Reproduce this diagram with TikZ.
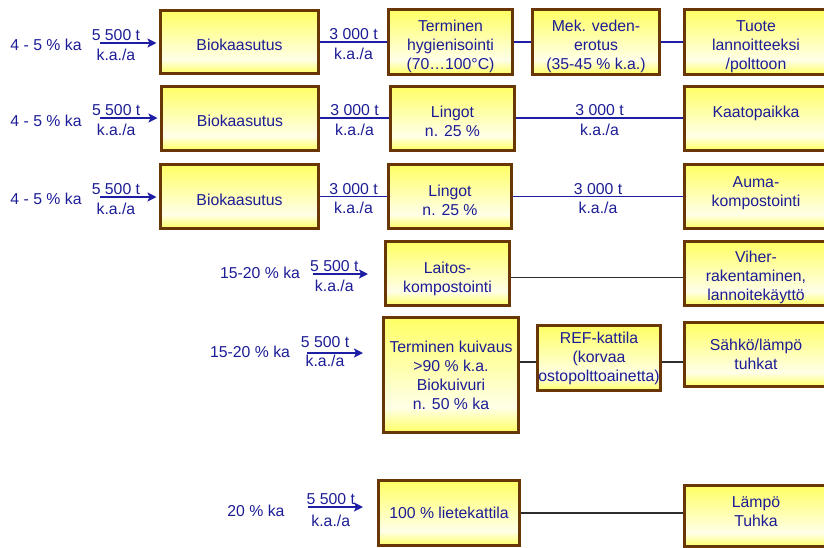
\documentclass[tikz,border=0pt]{standalone}
\usepackage{fontspec}
\setmainfont{Liberation Sans}
\usetikzlibrary{arrows.meta,positioning}

\definecolor{txtblue}{RGB}{28,28,150}
\definecolor{lineblue}{RGB}{30,30,165}
\definecolor{linegray}{RGB}{45,45,45}
\definecolor{boxbrown}{RGB}{105,55,5}
\definecolor{boxyel}{RGB}{255,255,100}
\definecolor{boxlight}{RGB}{255,255,232}
\pgfdeclareverticalshading{boxfill}{100bp}{color(0bp)=(boxyel); color(25bp)=(boxyel); color(36bp)=(boxlight); color(75bp)=(boxyel); color(100bp)=(boxyel)}
% struts to push the text of a box down (\dn) or up (\up)
\newcommand{\dn}[1]{\rule{0pt}{#1}}
\newcommand{\up}[1]{\rule[-#1]{0pt}{1pt}}

\begin{document}
\begin{tikzpicture}[x=1pt,y=-1pt,
  font=\fontsize{15.8}{19}\selectfont,
  box/.style={draw=boxbrown, line width=3pt, shade, shading=boxfill, text=txtblue, align=center, inner sep=1pt},
  boxsize/.style 2 args={minimum width=#1pt, minimum height=#2pt},
  src/.style={text=txtblue, inner sep=0pt},
  feed/.style={draw=lineblue, line width=2pt, -{Stealth[length=9pt,width=9pt,inset=2pt]}},
  link/.style={draw=lineblue, line width=1.5pt},
  plainlink/.style={draw=linegray, line width=1.5pt},
  qtop/.style={above, text=txtblue, inner sep=1.5pt},
  qbot/.style={below, text=txtblue, inner sep=5pt}]
\useasboundingbox (0,0) rectangle (824,547);

% row 1
\node[box, boxsize={158}{63}] (bio1) at (239.5,42) {\dn{18pt}Biokaasutus};
\node[box, boxsize={124}{63}] (hyg1) at (450.5,42) {\dn{21pt}Terminen\\hygienisointi\\(70…100°C)};
\node[box, boxsize={127}{63}] (mek1) at (596,42) {\dn{21pt}Mek. veden-\\erotus\\(35-45 \% k.a.)};
\node[box, boxsize={143}{63}] (tuote1) at (756,42) {\dn{21pt}Tuote\\lannoitteeksi\\/polttoon};

% row 2
\node[box, boxsize={157}{64}] (bio2) at (240,118) {\dn{18pt}Biokaasutus};
\node[box, boxsize={124}{64}] (lin2) at (452.5,118) {\dn{19pt}Lingot\\n. 25 \%};
\node[box, boxsize={143}{64}] (kaato2) at (756,118) {Kaatopaikka\\[-7pt]\mbox{}};

% row 3
\node[box, boxsize={158}{64}] (bio3) at (239.5,196.5) {\dn{18pt}Biokaasutus};
\node[box, boxsize={123}{64}] (lin3) at (450,196.5) {\dn{19pt}Lingot\\n. 25 \%};
\node[box, boxsize={143}{64}] (auma3) at (756,196.5) {Auma-\\kompostointi\up{10pt}};

% row 4
\node[box, boxsize={124}{64}] (lait4) at (447.5,273.5) {\dn{23pt}Laitos-\\kompostointi};
\node[box, boxsize={143}{64}] (viher4) at (756,273.5) {\dn{19pt}Viher-\\rakentaminen,\\lannoitekäyttö};

% row 5
\node[box, boxsize={135}{115}] (kuiv5) at (451,375) {Terminen kuivaus\\>90 \% k.a.\\Biokuivuri\\n. 50 \% ka};
\node[box, boxsize={123}{65}, inner sep=0pt] (ref5) at (599,358) {REF-kattila\\(korvaa\\ostopolttoainetta)};
\node[box, boxsize={143}{64}] (sahko5) at (756,354.5) {Sähkö/lämpö\\tuhkat};

% row 6
\node[box, boxsize={141}{65}] (liete6) at (449,513) {100 \% lietekattila};
\node[box, boxsize={143}{61}] (lampo6) at (756,516) {Lämpö\\Tuhka\up{9pt}};

% inputs
\node[src] (ka1) at (46,45) {4 - 5 \% ka};
\node[src] (ka2) at (46,121) {4 - 5 \% ka};
\node[src] (ka3) at (46,199) {4 - 5 \% ka};
\node[src] (ka4) at (260,273) {15-20 \% ka};
\node[src] (ka5) at (250,352) {15-20 \% ka};
\node[src] (ka6) at (256,511) {20 \% ka};
\coordinate (s1) at (100,43);
\coordinate (s2) at (100,118);
\coordinate (s3) at (100,197);
\coordinate (s4) at (313,274);
\coordinate (s5) at (307,353);
\coordinate (s6) at (308,507);
\coordinate (j5) at (0,362);

\draw[feed, shorten >=2.5pt] (s1) -- node[qtop, pos=.27]{5 500 t} node[qbot, pos=.27]{k.a./a} (s1 -| bio1.west);
\draw[feed, shorten >=2.5pt] (s2) -- node[qtop, pos=.27]{5 500 t} node[qbot, pos=.27]{k.a./a} (s2 -| bio2.west);
\draw[feed, shorten >=2.5pt] (s3) -- node[qtop, pos=.27]{5 500 t} node[qbot, pos=.27]{k.a./a} (s3 -| bio3.west);
\draw[feed, shorten >=16pt] (s4) -- node[qtop, pos=.3]{5 500 t} node[qbot, pos=.3]{k.a./a} (s4 -| lait4.west);
\draw[feed, shorten >=19pt] (s5) -- node[qtop, pos=.24, inner sep=4pt]{5 500 t} node[qbot, pos=.24, inner sep=1pt]{k.a./a} (s5 -| kuiv5.west);
\draw[feed, shorten >=14pt] (s6) -- node[qtop, pos=.33]{5 500 t} node[qbot, pos=.33, inner sep=7pt]{k.a./a} (s6 -| liete6.west);

\draw[link] (bio1) -- node[qtop]{3 000 t} node[qbot]{k.a./a} (hyg1);
\draw[link] (hyg1) -- (mek1);
\draw[link] (mek1) -- (tuote1);
\draw[link] (bio2) -- node[qtop]{3 000 t} node[qbot]{k.a./a} (lin2);
\draw[link] (lin2) -- node[qtop]{3 000 t} node[qbot]{k.a./a} (kaato2);
\draw[link] (bio3) -- node[qtop]{3 000 t} node[qbot]{k.a./a} (lin3);
\draw[link] (lin3) -- node[qtop]{3 000 t} node[qbot]{k.a./a} (auma3);

\draw[plainlink] ([yshift=-4pt]lait4.east) -- ([yshift=-4pt]viher4.west);
\draw[plainlink] (j5 -| kuiv5.east) -- (j5 -| ref5.west);
\draw[plainlink] (j5 -| ref5.east) -- (j5 -| sahko5.west);
\draw[plainlink] (liete6) -- (liete6 -| lampo6.west);
\end{tikzpicture}
\end{document}
